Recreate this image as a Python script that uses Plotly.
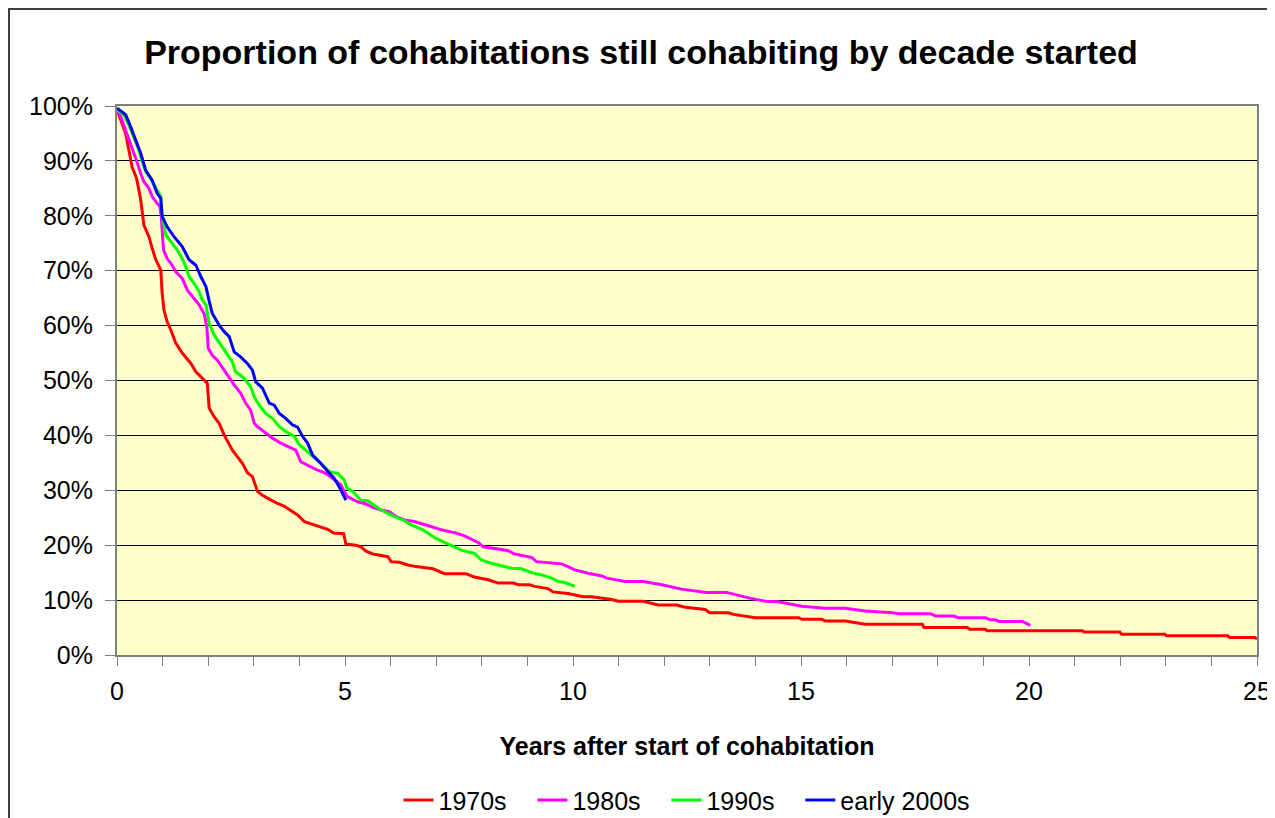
import plotly.graph_objects as go

# years after start of cohabitation, and % still cohabiting
yrs_1970s = [0, 0.08, 0.19, 0.26, 0.33, 0.43, 0.52, 0.59, 0.70, 0.77, 0.85, 0.96, 0.99, 1.03, 1.10,
             1.18, 1.29, 1.43, 1.62, 1.73, 1.91, 1.98, 2.02, 2.13, 2.24, 2.35, 2.53, 2.64, 2.75, 2.86,
             2.97, 3.08, 3.19, 3.34, 3.52, 3.67, 3.81, 3.96, 4.11, 4.33, 4.62, 4.75, 4.97, 5.02, 5.24,
             5.35, 5.46, 5.61, 5.83, 5.94, 6.01, 6.19, 6.38, 6.56, 6.93, 7.18, 7.66, 7.84, 8.14, 8.36,
             8.69, 8.80, 9.05, 9.16, 9.45, 9.56, 9.89, 10.22, 10.41, 10.85, 10.99, 11.54, 11.87, 12.27,
             12.46, 12.90, 13.00, 13.41, 13.52, 14.00, 14.95, 15.02, 15.46, 15.53, 15.97, 16.41, 17.66,
             17.70, 18.65, 18.70, 19.04, 19.08, 21.17, 21.21, 21.99, 22.03, 22.98, 23.02, 24.36, 24.40,
             24.95, 25.0]
pct_1970s = [99.3, 97.4, 95.0, 92.0, 88.9, 86.8, 82.9, 78.3, 76.2, 74.1, 72.0, 70.1, 65.9, 62.8, 60.7,
             59.2, 56.8, 55.0, 53.1, 51.6, 50.1, 49.5, 45.0, 43.4, 42.2, 40.1, 37.3, 36.1, 34.9, 33.2,
             32.5, 29.8, 29.1, 28.4, 27.6, 27.1, 26.4, 25.5, 24.3, 23.7, 22.9, 22.2, 22.1, 20.2, 20.0,
             19.7, 18.9, 18.4, 18.1, 17.9, 17.0, 16.9, 16.4, 16.1, 15.7, 14.8, 14.8, 14.2, 13.7, 13.1,
             13.1, 12.8, 12.8, 12.5, 12.1, 11.5, 11.2, 10.6, 10.6, 10.1, 9.8, 9.8, 9.1, 9.1,
             8.7, 8.3, 7.7, 7.7, 7.4, 6.8, 6.8, 6.5, 6.5, 6.2, 6.2, 5.6, 5.6,
             5.0, 5.0, 4.7, 4.7, 4.4, 4.4, 4.2, 4.2, 3.8, 3.8, 3.5, 3.5, 3.2,
             3.2, 2.9]

yrs_1980s = [0, 0.08, 0.19, 0.30, 0.41, 0.52, 0.59, 0.70, 0.77, 0.85, 0.94, 0.97, 1.02, 1.10, 1.21,
             1.29, 1.43, 1.54, 1.65, 1.80, 1.91, 1.97, 2.00, 2.09, 2.20, 2.35, 2.46, 2.57, 2.71, 2.82,
             2.93, 3.01, 3.08, 3.30, 3.41, 3.59, 3.81, 3.92, 4.03, 4.18, 4.36, 4.58, 4.73, 4.91, 4.98,
             5.06, 5.28, 5.46, 5.61, 5.79, 5.97, 6.12, 6.30, 6.52, 6.85, 7.11, 7.44, 7.62, 7.92, 8.03,
             8.36, 8.58, 8.72, 9.09, 9.20, 9.75, 9.89, 10.04, 10.33, 10.63, 10.74, 11.14, 11.54, 11.95,
             12.38, 12.93, 13.37, 13.85, 14.22, 14.50, 15.02, 15.53, 15.97, 16.41, 17.00, 17.15, 17.85,
             17.95, 18.35, 18.45, 19.05, 19.15, 19.25, 19.35, 19.85, 20.03]
pct_1980s = [99.3, 98.1, 95.6, 93.2, 90.5, 87.7, 86.2, 85.0, 83.5, 82.6, 81.7, 79.9, 73.8, 72.2, 71.0,
             69.8, 68.6, 66.5, 65.3, 63.8, 62.2, 59.8, 55.9, 54.6, 53.7, 51.9, 50.4, 49.2, 47.7, 45.9,
             44.6, 42.2, 41.6, 40.1, 39.5, 38.6, 37.8, 37.3, 35.2, 34.6, 33.8, 33.1, 32.2, 31.0, 29.8,
             28.8, 27.9, 27.5, 26.9, 26.4, 26.1, 25.2, 24.6, 24.3, 23.5, 22.8, 22.2, 21.7, 20.5, 19.7,
             19.3, 19.0, 18.4, 17.8, 17.0, 16.6, 16.1, 15.5, 14.9, 14.4, 14.0, 13.4, 13.4, 12.8,
             12.0, 11.4, 11.4, 10.4, 9.8, 9.7, 8.9, 8.5, 8.5, 8.0, 7.7, 7.5, 7.5,
             7.1, 7.1, 6.8, 6.8, 6.4, 6.4, 6.1, 6.1, 5.4]

yrs_1990s = [0, 0.15, 0.26, 0.37, 0.48, 0.55, 0.63, 0.74, 0.85, 0.96, 0.99, 1.07, 1.18, 1.32, 1.43,
             1.51, 1.58, 1.69, 1.80, 1.87, 1.95, 2.02, 2.13, 2.27, 2.42, 2.53, 2.60, 2.75, 2.93, 3.01,
             3.12, 3.26, 3.41, 3.56, 3.70, 3.89, 4.00, 4.18, 4.36, 4.55, 4.65, 4.84, 4.98, 5.04, 5.17,
             5.35, 5.50, 5.64, 5.79, 5.94, 6.08, 6.27, 6.45, 6.71, 6.96, 7.18, 7.40, 7.55, 7.84, 7.99,
             8.21, 8.43, 8.65, 8.87, 9.09, 9.31, 9.53, 9.67, 9.82, 10.04]
pct_1990s = [99.3, 98.4, 96.5, 94.4, 92.0, 89.9, 88.0, 86.8, 85.0, 83.5, 79.9, 76.5, 75.3, 73.8, 72.2,
             70.7, 68.9, 67.7, 66.2, 64.7, 63.8, 60.4, 58.3, 56.5, 54.6, 53.4, 51.6, 50.7, 48.9, 47.0,
             45.5, 44.0, 43.1, 41.6, 40.7, 39.8, 38.3, 37.0, 35.8, 34.3, 33.4, 33.1, 31.9, 30.4, 29.8,
             28.2, 28.1, 27.3, 26.4, 25.8, 25.2, 24.6, 23.7, 22.8, 21.4, 20.5, 19.6, 19.1, 18.5, 17.3,
             16.7, 16.2, 15.8, 15.7, 15.0, 14.6, 14.0, 13.4, 13.2, 12.5]

yrs_2000s = [0, 0.19, 0.30, 0.41, 0.52, 0.63, 0.77, 0.88, 0.96, 0.99, 1.10, 1.25, 1.43, 1.58, 1.73,
             1.84, 1.95, 2.02, 2.09, 2.24, 2.35, 2.46, 2.57, 2.71, 2.86, 2.97, 3.04, 3.19, 3.34, 3.45,
             3.56, 3.70, 3.85, 3.96, 4.07, 4.18, 4.29, 4.40, 4.62, 4.76, 4.87, 5.02]
pct_2000s = [99.6, 98.4, 96.2, 93.8, 91.4, 88.3, 86.5, 84.1, 83.2, 79.9, 78.0, 76.2, 74.4, 72.0, 71.0,
             68.9, 67.1, 64.5, 62.2, 60.1, 58.9, 58.0, 55.2, 54.3, 53.1, 51.9, 49.8, 48.6, 45.9, 45.5,
             44.0, 43.1, 41.9, 41.5, 39.8, 38.6, 36.4, 35.5, 33.4, 32.2, 30.7, 28.2]

# trailing no-break spaces widen the legend entries like the original
PAD = "\u00a0" * 3
series = [
    ("1970s" + PAD, yrs_1970s, pct_1970s, "#FF0000"),
    ("1980s" + PAD, yrs_1980s, pct_1980s, "#FF00FF"),
    ("1990s" + PAD, yrs_1990s, pct_1990s, "#00FF00"),
    ("early 2000s", yrs_2000s, pct_2000s, "#0000FF"),
]

FONT = "Liberation Sans, Arial, sans-serif"

# page body has an 8px margin, so the figure is a bit smaller than the window
W, H = 1267, 810

fig = go.Figure()
for name, xs, ys, color in series:
    fig.add_trace(go.Scatter(x=xs, y=ys, name=name, mode="lines",
                             line=dict(color=color, width=3)))

fig.update_layout(
    width=W, height=H,
    margin=dict(l=109, r=18, t=98, b=163),
    paper_bgcolor="white",
    plot_bgcolor="#FFFFCC",
    font=dict(family=FONT, size=25, color="black"),
    title=dict(text="<b>Proportion of cohabitations still cohabiting by decade started</b>",
               font=dict(size=34), x=0.4996, xanchor="center", y=0.9457, yanchor="middle"),
    legend=dict(orientation="h", x=0.5, xanchor="center", yref="container", y=0.022,
                yanchor="middle", font=dict(size=25), tracegroupgap=0),
    showlegend=True,
)

fig.update_xaxes(
    range=[0, 25], dtick=5, tick0=0, showgrid=False, zeroline=False, automargin=False,
    ticks="outside", ticklen=9, tickcolor="#808080", ticklabelstandoff=4,
    minor=dict(dtick=1, ticks="outside", ticklen=9, tickcolor="#808080", showgrid=False),
    showline=True, linecolor="#808080", linewidth=2, mirror=True,
    title=dict(text="<b>Years after start of cohabitation</b>", font=dict(size=25), standoff=33),
)
fig.update_yaxes(
    range=[0, 100], dtick=10, ticksuffix="%", showgrid=True, gridcolor="black", gridwidth=1,
    zeroline=False, automargin=False, ticks="outside", ticklen=10, tickcolor="#808080",
    ticklabelstandoff=7,
    showline=True, linecolor="#808080", linewidth=2, mirror=True,
)

# outer chart border (bottom edge runs off the page)
fig.add_shape(type="rect", xref="paper", yref="paper",
              x0=(9 - 117) / 1140, x1=(1270 - 117) / 1140,
              y0=(655 - 840) / 549, y1=(655 - 9) / 549,
              line=dict(color="#404040", width=2), layer="below")

fig.write_html("out.html")
